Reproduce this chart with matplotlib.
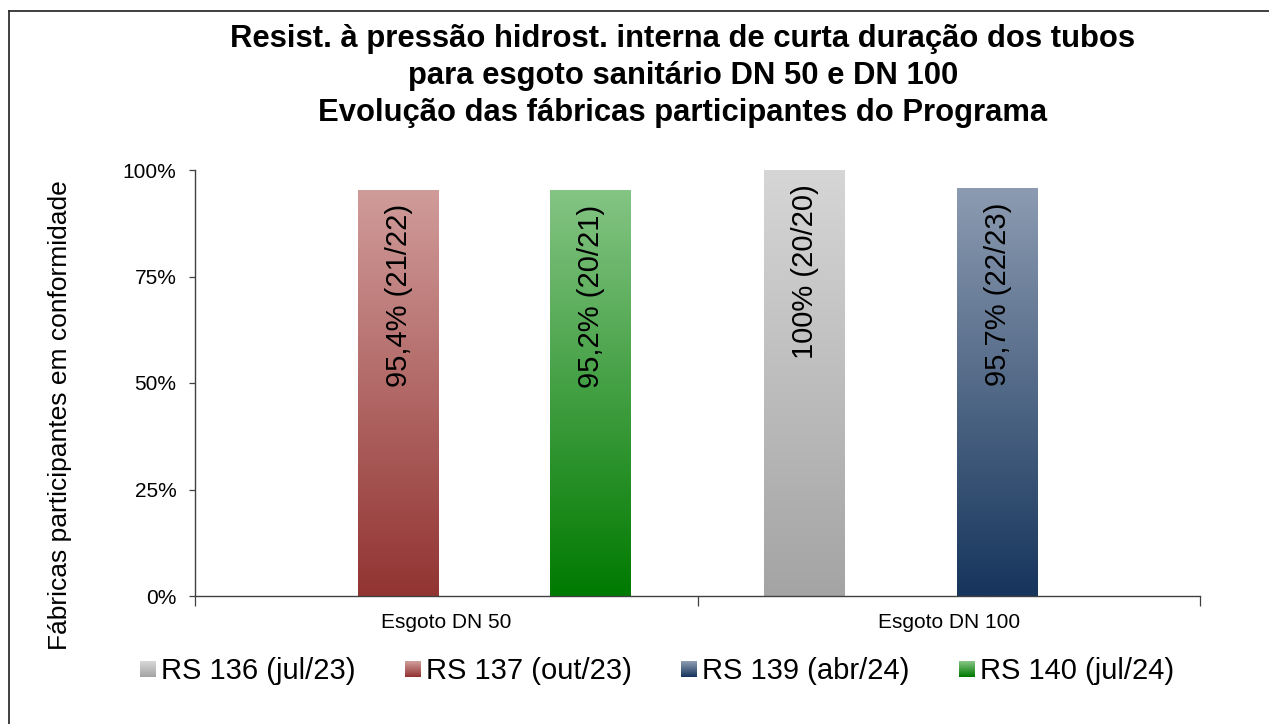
import numpy as np
import matplotlib
matplotlib.use("Agg")
import matplotlib.pyplot as plt
from matplotlib.patches import Rectangle
from matplotlib.legend_handler import HandlerBase
from matplotlib.lines import Line2D
from matplotlib.colors import to_rgb

plt.rcParams['font.family'] = ['Liberation Sans', 'DejaVu Sans']

# ---- data ----
categories = ["Esgoto DN 50", "Esgoto DN 100"]
series_names = ["RS 136 (jul/23)", "RS 137 (out/23)", "RS 139 (abr/24)", "RS 140 (jul/24)"]
rs136 = [np.nan, 100.0]
rs137 = [95.4, np.nan]
rs139 = [np.nan, 95.7]
rs140 = [95.2, np.nan]
lbl136 = [None, "100% (20/20)"]
lbl137 = ["95,4% (21/22)", None]
lbl139 = [None, "95,7% (22/23)"]
lbl140 = ["95,2% (20/21)", None]
yticks = [0, 25, 50, 75, 100]
title_lines = ["Resist. à pressão hidrost. interna de curta duração dos tubos",
               "para esgoto sanitário DN 50 e DN 100",
               "Evolução das fábricas participantes do Programa"]
ylabel = "Fábricas participantes em conformidade"

# gradient colours (top, bottom)
grads = [("#d6d6d6", "#a4a4a4"),
         ("#d09c9a", "#923432"),
         ("#8c9bb1", "#16355c"),
         ("#84c484", "#007a00")]

all_vals = [rs136, rs137, rs139, rs140]
all_lbls = [lbl136, lbl137, lbl139, lbl140]

W, H = 1269, 724
fig = plt.figure(figsize=(W / 100, H / 100), dpi=100)
ax = fig.add_axes([195 / W, 1 - 596 / H, (1200 - 195) / W, (596 - 170) / H])

x = np.arange(len(categories))
slot = 0.1915
bw = 0.16
offsets = (np.arange(4) - 1.5) * slot


def grad_img(top, bot, n=256):
    t = np.linspace(0, 1, n)[:, None]
    a = np.array(to_rgb(top)); b = np.array(to_rgb(bot))
    return (a * (1 - t) + b * t)[:, None, :]


for i, (vals, lbls, (ct, cb)) in enumerate(zip(all_vals, all_lbls, grads)):
    bars = ax.bar(x + offsets[i], vals, width=bw, color='none', edgecolor='none')
    for bar, v, lb in zip(bars, vals, lbls):
        if np.isnan(v):
            continue
        x0 = bar.get_x(); w = bar.get_width(); h = bar.get_height()
        im = ax.imshow(grad_img(ct, cb), extent=[x0, x0 + w, 0, h], origin='upper',
                       aspect='auto', zorder=2, interpolation='bilinear')
        im.set_clip_path(bar)
        if lb:
            ax.annotate(lb, xy=(x0 + w / 2, h), xytext=(0.5, -10.5), textcoords='offset points',
                        rotation=90, ha='center', va='top', fontsize=21, color='black',
                        zorder=3)

ax.set_xlim(-0.5, 1.5)
ax.set_ylim(0, 100)
ax.set_yticks(yticks)
ax.set_yticklabels([f"{t}%" for t in yticks])
ax.set_xticks(x)
ax.set_xticklabels(categories)
ax.set_xticks([-0.5, 0.5, 1.5], minor=True)
ax.tick_params(axis='x', which='major', length=0, pad=12, labelsize=15)
ax.tick_params(axis='x', which='minor', length=7, width=0.9, color='#404040', direction='out')
ax.tick_params(axis='y', length=4.5, width=0.9, color='#404040', pad=9, labelsize=15)
for s in ['top', 'right']:
    ax.spines[s].set_visible(False)
for s in ['left', 'bottom']:
    ax.spines[s].set_color('#404040')
    ax.spines[s].set_linewidth(1.0)
ax.patch.set_alpha(0)

# title lines
for line, yb in zip(title_lines, [47.5, 84, 120.5]):
    fig.text(683 / W, 1 - yb / H, line, ha='center', va='baseline',
             fontsize=22.3, fontweight='bold')

fig.text(60 / W, 1 - 415 / H, ylabel, rotation=90, ha='center', va='center', fontsize=19)


class GradHandler(HandlerBase):
    def __init__(self, top, bot, n=16):
        super().__init__()
        self.top, self.bot, self.n = top, bot, n

    def create_artists(self, legend, orig_handle, xdescent, ydescent, width, height,
                       fontsize, trans):
        arts = []
        cols = grad_img(self.top, self.bot, self.n)[:, 0, :]
        side = min(width, height)
        y0 = -ydescent + (height - side) / 2
        hs = side / self.n
        for k in range(self.n):
            r = Rectangle((-xdescent, y0 + side - (k + 1) * hs), side, hs * 1.05,
                          facecolor=cols[k], edgecolor='none', transform=trans)
            arts.append(r)
        return arts


handles = [Rectangle((0, 0), 1, 1) for _ in series_names]
hmap = {h: GradHandler(t, b) for h, (t, b) in zip(handles, grads)}
fig.legend(handles, series_names, handler_map=hmap, loc='center',
           bbox_to_anchor=(657 / W, 1 - 671 / H), ncol=4, frameon=False, fontsize=21,
           handlelength=0.55, handleheight=0.55, handletextpad=0.18, columnspacing=1.68,
           borderpad=0, borderaxespad=0)

# outer border (chart area frame)
fig.add_artist(Line2D([9 / W, 1.0], [1 - 11 / H, 1 - 11 / H], color='#303030', lw=1.3,
                      transform=fig.transFigure))
fig.add_artist(Line2D([9 / W, 9 / W], [1 - 11 / H, 0.0], color='#303030', lw=1.3,
                      transform=fig.transFigure))

fig.savefig("out.png", dpi=100)
